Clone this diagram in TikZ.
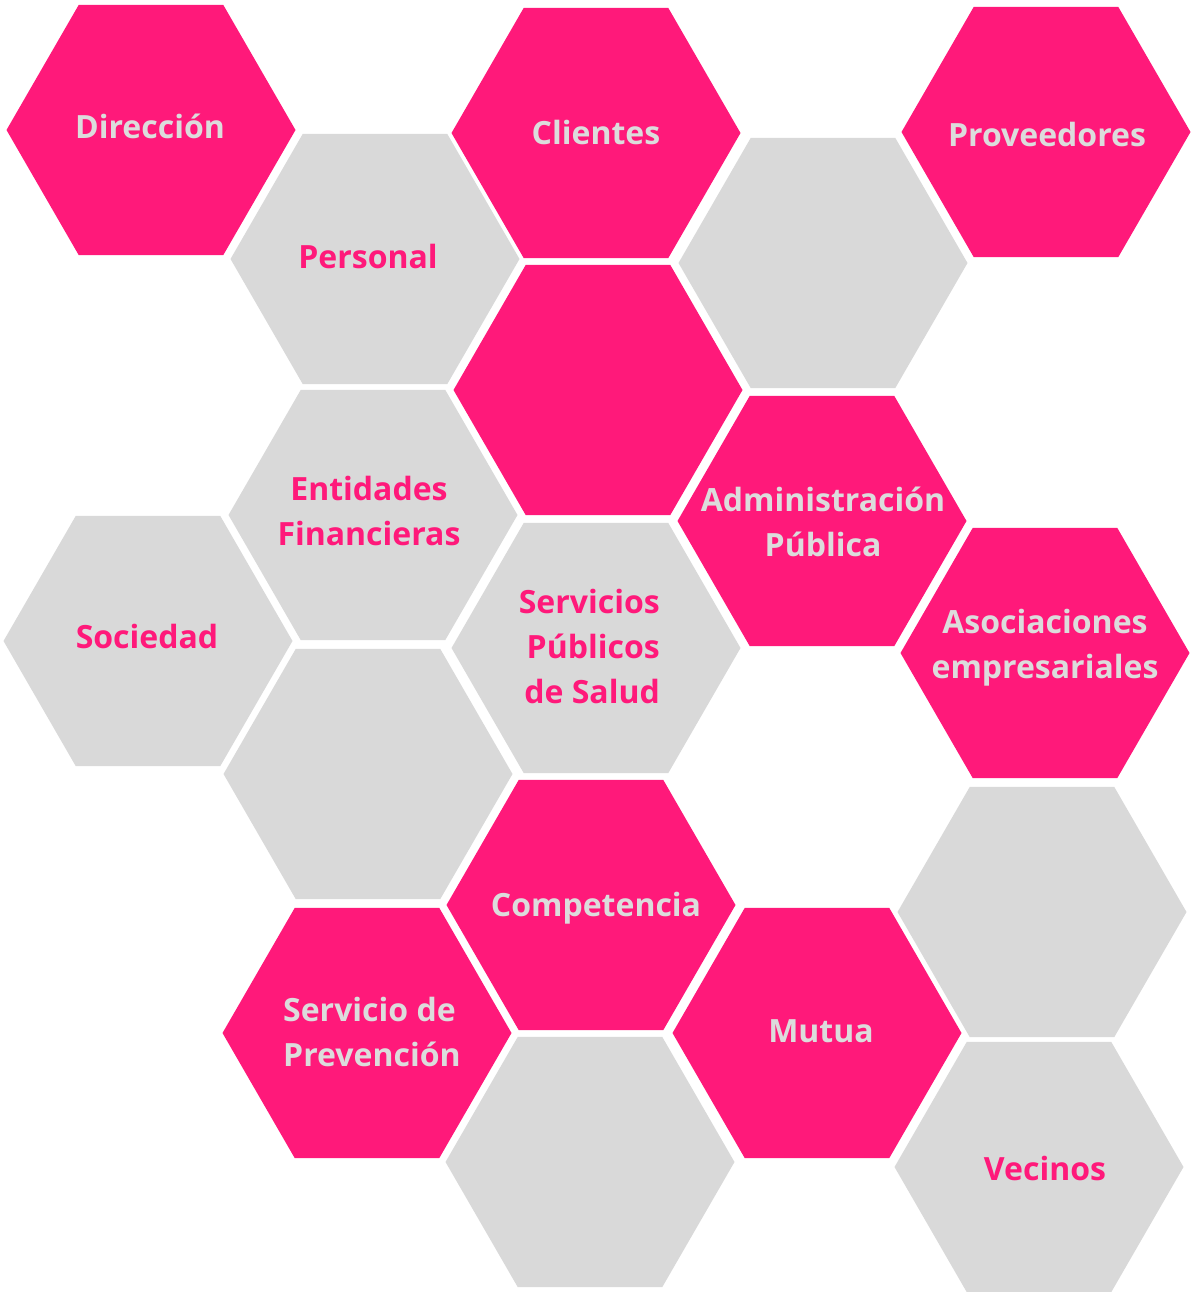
\documentclass[tikz,border=0pt]{standalone}
\usepackage{fontspec}
\setmainfont{Open Sans}
\usepackage{tikz}
\usetikzlibrary{shapes.geometric}

\begin{document}
\begin{tikzpicture}[x=1pt,y=1pt,yscale=-1,xscale=1,
  hexpink/.style={regular polygon, regular polygon sides=6, minimum size=289pt, inner sep=0pt, outer sep=0pt, draw=none, fill={rgb, 255:red, 255; green, 25; blue, 122}},
  hexgray/.style={regular polygon, regular polygon sides=6, minimum size=289pt, inner sep=0pt, outer sep=0pt, draw=none, fill={rgb, 255:red, 217; green, 217; blue, 217}},
  lbl/.style={inner sep=0pt, font=\fontsize{32}{45}\selectfont\bfseries},
  lblpink/.style={lbl, text={rgb, 255:red, 255; green, 25; blue, 122}},
  lblgray/.style={lbl, text={rgb, 255:red, 220; green, 220; blue, 220}}]
%set diagram left start at 0, and has height of 1292
\useasboundingbox (0,0) rectangle (1191,1292);

%Shape: Hexagon row 1
\node [hexpink] (dir) at (151,130) {};
\node [hexpink] (cli) at (596,133) {};
\node [hexpink] (prov) at (1046,132) {};
%Shape: Hexagon row 2
\node [hexgray] (pers) at (375,259) {};
\node [hexgray] (blankA) at (823,263) {};
\node [hexpink] (core) at (598,390) {};
%Shape: Hexagon row 3
\node [hexgray] (ent) at (373,515) {};
\node [hexpink] (adm) at (822,521) {};
\node [hexgray] (soc) at (148,641) {};
\node [hexgray] (salud) at (596,648) {};
\node [hexpink] (asoc) at (1045,653) {};
%Shape: Hexagon row 4
\node [hexgray] (blankB) at (368,774) {};
\node [hexpink] (comp) at (591,905) {};
\node [hexgray] (blankC) at (1042,912) {};
%Shape: Hexagon row 5
\node [hexpink] (prev) at (367,1033) {};
\node [hexpink] (mut) at (817,1033) {};
\node [hexgray] (blankD) at (590,1162) {};
\node [hexgray] (vec) at (1039,1167) {};

% Text Node
\node [lblgray, anchor=base] (dirtxt) at (150,139) {Dirección};
% Text Node
\node [lblgray, anchor=base] (clitxt) at (596,145) {Clientes};
% Text Node
\node [lblgray, anchor=base] (provtxt) at (1047,147) {Proveedores};
% Text Node
\node [lblpink, anchor=base] (perstxt) at (368,268) {Personal};
% Text Node
\node [lblpink, anchor=base, align=center] (enttxt) at (369,545) {Entidades\\Financieras};
% Text Node
\node [lblgray, anchor=base, align=center] (admtxt) at (823,556) {Administración\\Pública};
% Text Node
\node [lblpink, anchor=base] (soctxt) at (147,648) {Sociedad};
% Text Node
\node [lblpink, anchor=base east, align=right] (saludtxt) at (660,703) {Servicios\\Públicos\\de Salud};
% Text Node
\node [lblgray, anchor=base, align=center] (asoctxt) at (1045,678) {Asociaciones\\empresariales};
% Text Node
\node [lblgray, anchor=base] (comptxt) at (596,916) {Competencia};
% Text Node
\node [lblgray, anchor=base west, align=left] (prevtxt) at (283,1066) {Servicio de\\Prevención};
% Text Node
\node [lblgray, anchor=base] (muttxt) at (821,1042) {Mutua};
% Text Node
\node [lblpink, anchor=base] (vectxt) at (1045,1180) {Vecinos};

\end{tikzpicture}
\end{document}
